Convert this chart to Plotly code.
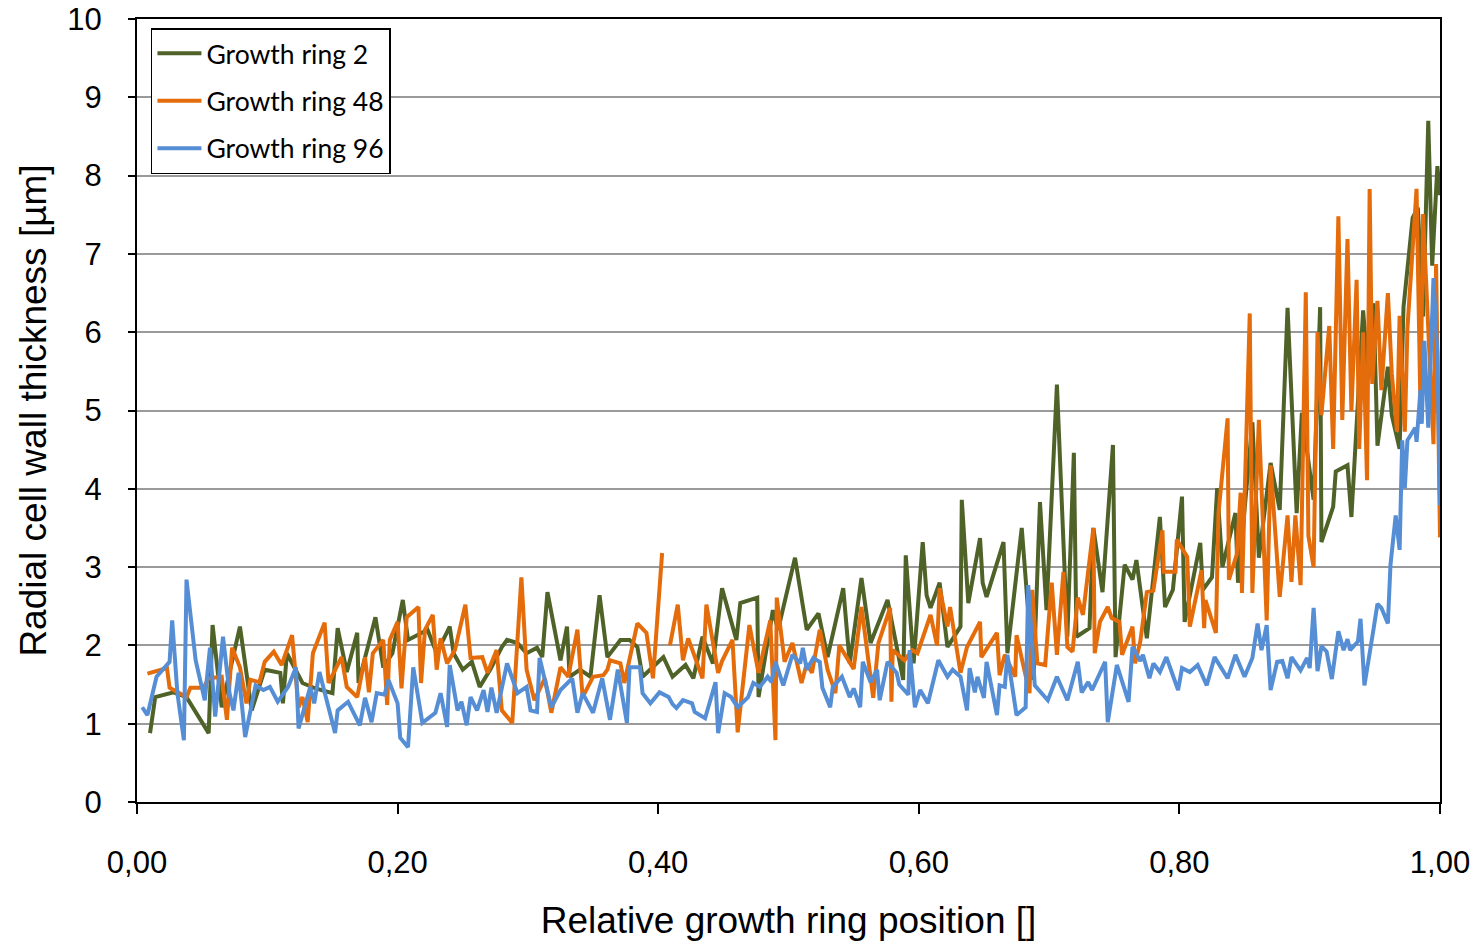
import plotly.graph_objects as go

# ---- Growth ring 2 ----
pos_ring2 = [0.010,0.014,0.028,0.038,0.055,0.058,0.065,0.079,0.088,0.098,0.110,0.112,0.115,0.127,0.137,0.150,0.154,0.161,0.169,0.170,
             0.183,0.189,0.196,0.204,0.208,0.223,0.230,0.240,0.243,0.250,0.257,0.263,0.271,0.280,0.284,0.292,0.299,0.307,0.311,0.315,
             0.325,0.330,0.332,0.340,0.348,0.355,0.361,0.371,0.378,0.384,0.388,0.404,0.411,0.421,0.427,0.434,0.442,0.449,0.460,0.463,
             0.476,0.477,0.488,0.492,0.505,0.514,0.523,0.530,0.542,0.547,0.556,0.563,0.576,0.588,0.590,0.596,0.603,0.606,0.609,0.616,
             0.622,0.632,0.633,0.638,0.647,0.649,0.652,0.665,0.668,0.679,0.688,0.693,0.698,0.706,0.714,0.719,0.721,0.731,0.734,0.741,
             0.749,0.751,0.758,0.764,0.767,0.775,0.785,0.789,0.795,0.802,0.804,0.816,0.818,0.825,0.829,0.833,0.843,0.845,0.856,0.861,
             0.870,0.877,0.883,0.890,0.894,0.903,0.908,0.909,0.918,0.920,0.929,0.932,0.941,0.945,0.949,0.952,0.960,0.963,0.969,0.972,
             0.979,0.983,0.987,0.991,0.994,0.998,1.000]
thk_ring2 = [0.88,1.34,1.40,1.34,0.88,2.26,1.21,2.24,1.17,1.69,1.65,1.26,1.90,1.52,1.45,1.39,2.22,1.66,2.16,1.52,
             2.36,1.72,1.90,2.58,2.07,2.20,1.90,2.24,1.90,1.69,1.79,1.47,1.69,1.98,2.07,2.03,1.90,1.97,1.85,2.68,
             1.81,2.24,1.60,1.69,1.60,2.64,1.85,2.07,2.07,1.98,1.60,1.85,1.60,1.75,1.58,2.11,1.77,2.73,2.07,2.54,
             2.61,1.34,2.45,2.20,3.12,2.20,2.41,1.85,2.73,1.77,2.86,2.03,2.58,1.56,3.15,1.77,3.32,2.64,2.48,2.80,
             1.98,2.24,3.86,2.54,3.37,2.80,2.62,3.32,1.90,3.50,1.56,3.83,2.45,5.33,2.11,4.46,2.11,2.22,3.50,2.68,
             4.56,1.85,3.03,2.84,3.09,2.09,3.64,2.49,2.71,3.90,2.30,3.31,2.71,2.87,4.01,3.00,3.69,2.80,4.85,3.12,
             4.33,3.73,6.31,3.69,4.97,3.86,6.32,3.32,3.77,4.22,4.30,3.64,6.28,5.40,6.37,4.55,5.56,4.94,4.51,6.32,
             7.46,7.59,6.20,8.70,6.85,8.12,7.75]

# ---- Growth ring 48 (None = gap in the measured profile) ----
pos_ring48 = [0.008,0.023,0.025,0.038,0.041,0.051,0.055,0.065,0.069,0.073,0.079,0.084,0.087,0.094,0.098,0.105,0.111,0.119,0.124,0.127,
              0.131,0.135,0.144,0.147,0.157,0.161,0.169,0.175,0.178,0.181,0.189,0.192,0.194,0.200,0.203,0.207,0.216,0.218,0.221,0.227,
              0.230,0.233,0.238,0.244,0.252,0.256,0.265,0.269,0.276,0.280,0.288,0.295,0.299,0.305,0.313,0.318,0.325,0.331,0.338,0.342,
              0.350,0.358,0.361,0.363,0.371,0.374,0.384,0.391,0.396,0.403,0.406,0.409,0.415,0.419,0.423,0.434,0.437,0.446,0.449,0.457,
              0.461,0.470,0.477,0.486,0.490,0.491,0.497,0.503,0.510,0.514,0.518,0.524,0.530,0.536,0.539,0.550,0.556,0.565,0.569,0.578,
              0.579,0.580,0.589,0.595,0.599,0.609,0.614,0.616,0.622,0.624,0.632,0.637,0.647,0.648,0.660,0.662,0.666,0.674,0.675,0.685,
              0.687,0.691,0.697,0.702,0.706,0.711,0.714,0.718,0.722,0.726,0.734,0.735,0.739,0.745,0.748,0.754,0.756,0.764,0.766,0.770,
              0.775,0.780,0.787,0.788,0.797,0.798,0.806,0.808,0.817,0.819,0.820,0.828,0.830,0.837,0.838,0.844,0.847,0.848,0.854,0.856,
              0.861,0.867,0.870,0.877,0.883,0.886,0.889,0.893,0.897,0.899,0.903,0.906,0.909,0.915,0.918,0.922,0.925,0.929,0.932,0.936,
              0.938,0.941,0.944,0.946,0.948,0.952,0.955,0.960,0.963,0.967,0.969,0.973,0.975,0.982,0.985,0.987,0.995,0.997,1.000]
thk_ring48 = [1.64,1.71,1.46,1.34,1.46,1.46,1.58,1.60,1.05,1.97,1.72,1.26,1.56,1.53,1.79,1.92,1.75,2.13,1.21,1.34,
              1.02,1.90,2.29,1.52,1.85,1.47,1.34,1.85,1.40,1.90,2.07,1.24,2.07,2.30,1.45,2.36,2.49,1.52,2.20,2.39,
              1.69,2.09,1.77,1.94,2.52,1.84,1.85,1.65,1.94,1.17,1.01,2.87,1.69,1.30,1.58,1.14,1.72,1.60,2.20,1.34,
              1.60,1.62,1.69,1.81,1.77,1.52,2.28,2.16,1.58,3.18,None,2.00,2.52,1.81,2.09,1.58,2.52,1.65,1.80,2.07,
              0.89,2.26,1.65,2.32,0.79,2.61,1.79,2.03,1.52,1.77,1.65,2.20,1.69,1.39,2.00,1.70,2.49,1.33,2.03,2.48,
              1.28,1.94,1.81,1.94,1.90,2.39,2.00,2.73,2.24,2.49,1.65,1.98,2.30,1.85,2.16,1.62,1.88,1.60,2.13,1.39,
              2.71,1.77,1.75,2.80,1.88,2.94,1.98,1.92,2.61,2.39,3.50,1.90,2.30,2.49,2.35,2.30,1.88,2.24,1.77,2.05,
              2.68,2.70,3.47,2.94,2.94,3.35,3.13,2.24,2.96,2.22,2.58,2.16,3.69,4.90,2.84,3.16,3.95,2.67,6.24,2.67,
              4.88,2.32,4.30,2.62,3.66,2.81,3.66,2.77,6.51,3.40,3.00,6.00,4.94,6.08,4.51,7.48,4.88,7.19,4.99,6.67,
              4.51,6.00,4.11,7.83,5.34,6.40,5.26,6.50,5.47,4.73,6.21,4.73,6.05,7.83,5.04,7.51,4.57,6.87,3.38]

# ---- Growth ring 96 ----
pos_ring96 = [0.004,0.008,0.015,0.025,0.027,0.031,0.036,0.038,0.045,0.052,0.056,0.060,0.066,0.071,0.074,0.078,0.083,0.091,0.097,0.102,
              0.108,0.116,0.122,0.124,0.133,0.136,0.140,0.152,0.154,0.162,0.171,0.175,0.180,0.184,0.190,0.193,0.200,0.202,0.208,0.212,
              0.219,0.229,0.233,0.238,0.240,0.246,0.249,0.253,0.256,0.261,0.266,0.269,0.272,0.276,0.284,0.292,0.299,0.302,0.307,0.309,
              0.318,0.325,0.334,0.338,0.342,0.350,0.357,0.363,0.369,0.376,0.378,0.386,0.388,0.394,0.401,0.408,0.411,0.414,0.419,0.426,
              0.428,0.436,0.444,0.446,0.451,0.456,0.461,0.469,0.473,0.478,0.484,0.487,0.490,0.496,0.503,0.509,0.511,0.514,0.519,0.524,
              0.526,0.532,0.534,0.541,0.547,0.550,0.555,0.557,0.563,0.568,0.570,0.576,0.583,0.585,0.592,0.593,0.597,0.601,0.607,0.615,
              0.622,0.626,0.632,0.637,0.639,0.643,0.645,0.650,0.652,0.660,0.662,0.666,0.668,0.675,0.682,0.684,0.689,0.699,0.706,0.714,
              0.722,0.725,0.730,0.733,0.743,0.745,0.752,0.761,0.764,0.770,0.772,0.777,0.780,0.785,0.790,0.799,0.802,0.808,0.814,0.821,
              0.827,0.837,0.843,0.850,0.856,0.860,0.863,0.867,0.870,0.875,0.879,0.883,0.886,0.893,0.898,0.900,0.903,0.906,0.909,0.913,
              0.917,0.922,0.926,0.929,0.931,0.937,0.939,0.942,0.949,0.952,0.955,0.960,0.962,0.966,0.969,0.971,0.973,0.975,0.981,0.982,
              0.985,0.986,0.988,0.991,0.995,0.998,1.000]
thk_ring96 = [1.21,1.11,1.60,1.79,2.32,1.39,0.79,2.84,1.81,1.30,1.97,1.09,2.11,1.39,1.17,1.65,0.83,1.49,1.43,1.47,
              1.28,1.47,1.72,0.94,1.47,1.26,1.66,0.88,1.17,1.28,0.98,1.33,1.02,1.39,1.37,1.56,1.26,0.82,0.70,1.72,
              1.01,1.14,1.39,0.96,1.75,1.17,1.28,0.98,1.34,1.17,1.43,1.15,1.46,1.14,1.77,1.39,1.47,1.17,1.15,1.84,
              1.21,1.43,1.58,1.14,1.39,1.14,1.58,1.05,1.69,1.01,1.72,1.72,1.39,1.26,1.40,1.34,1.25,1.20,1.30,1.26,
              1.15,1.07,1.53,0.88,1.39,1.34,1.21,1.34,1.52,1.47,1.60,1.53,1.79,1.49,1.88,1.77,1.97,1.69,1.84,1.79,
              1.46,1.21,1.47,1.60,1.34,1.45,1.21,1.79,1.53,1.69,1.30,1.79,1.65,1.50,1.37,1.94,1.21,1.43,1.26,1.81,
              1.60,1.69,1.60,1.17,1.71,1.40,1.60,1.33,1.79,1.11,1.49,1.47,1.88,1.11,1.21,2.77,1.49,1.30,1.60,1.30,
              1.79,1.40,1.53,1.43,1.79,1.02,1.75,1.28,1.98,1.80,1.88,1.58,1.77,1.66,1.85,1.43,1.71,1.66,1.75,1.49,
              1.85,1.58,1.88,1.60,1.84,2.28,1.94,2.26,1.43,1.79,1.80,1.58,1.85,1.68,1.84,1.71,2.48,1.67,1.99,1.92,
              1.57,2.18,1.94,2.08,1.94,2.05,2.34,1.49,2.21,2.53,2.48,2.28,3.03,3.66,3.22,4.62,4.01,4.62,4.78,4.60,
              5.26,4.83,5.89,4.78,6.69,5.73,3.79]

series_names = ["Growth ring 2", "Growth ring 48", "Growth ring 96"]
series_colors = ["#4F6228", "#E46C0A", "#558ED5"]
x_ticks = [0.0, 0.2, 0.4, 0.6, 0.8, 1.0]
y_ticks = list(range(0, 11))

fig = go.Figure()
for i, (xs, ys) in enumerate([(pos_ring2, thk_ring2), (pos_ring48, thk_ring48), (pos_ring96, thk_ring96)]):
    fig.add_trace(go.Scatter(
        x=xs, y=ys, mode="lines", name=series_names[i], legendgroup=f"g{i}",
        line=dict(color=series_colors[i], width=4), connectgaps=False,
    ))

axis_font = dict(family="Liberation Sans, Arial, sans-serif", size=31, color="black")
title_font = dict(family="Liberation Sans, Arial, sans-serif", size=37, color="black")
fig.update_layout(
    width=1483, height=943,
    margin=dict(l=137, r=43, t=19, b=141, autoexpand=False),
    paper_bgcolor="white", plot_bgcolor="white",
    separators=",.",
    showlegend=True,
    legend=dict(
        x=0.0107, y=0.9885, xanchor="left", yanchor="top",
        bgcolor="white", bordercolor="black", borderwidth=1.5,
        font=dict(family="Lato, Carlito, sans-serif", size=26.5, color="black"),
        traceorder="grouped", tracegroupgap=10, itemwidth=44,
    ),
    xaxis=dict(
        range=[0, 1], tickvals=x_ticks, tickformat=".2f",
        showgrid=False, zeroline=False, automargin=False,
        showline=True, linecolor="black", linewidth=2, mirror=True,
        ticks="outside", ticklen=10, tickwidth=1.5, tickcolor="black",
        tickfont=axis_font, ticklabelstandoff=22,
        title=dict(text="Relative growth ring position []", font=title_font, standoff=28),
    ),
    yaxis=dict(
        range=[0, 10], tickvals=y_ticks,
        showgrid=True, gridcolor="#9a9a9a", gridwidth=1.5, zeroline=False, automargin=False,
        showline=True, linecolor="black", linewidth=2, mirror=True,
        ticks="outside", ticklen=7, tickwidth=1.5, tickcolor="black",
        tickfont=axis_font, ticklabelstandoff=20,
        title=dict(text="Radial cell wall thickness [µm]", font=title_font, standoff=9),
    ),
)

fig.write_html("out.html")
